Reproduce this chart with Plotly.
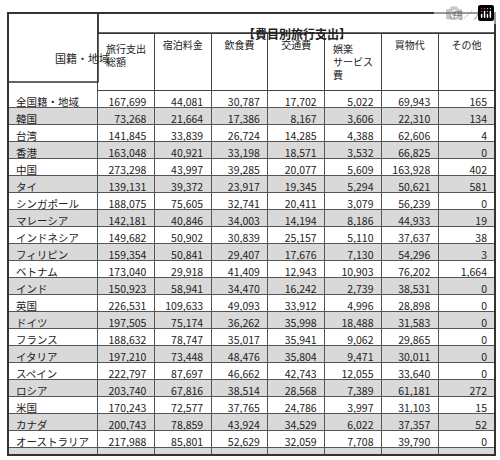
import plotly.graph_objects as go

regions = ["全国籍・地域","韓国","台湾","香港","中国","タイ","シンガポール","マレーシア","インドネシア","フィリピン","ベトナム","インド","英国","ドイツ","フランス","イタリア","スペイン","ロシア","米国","カナダ","オーストラリア","その他"]
total = [167699,73268,141845,163048,273298,139131,188075,142181,149682,159354,173040,150923,226531,197505,188632,197210,222797,203740,170243,200743,217988,185772]
lodging = [44081,21664,33839,40921,43997,39372,75605,40846,50902,50841,29918,58941,109633,75174,78747,73448,87697,67816,72577,78859,85801,82702]
food = [30787,17386,26724,33198,39285,23917,32741,34003,30839,29407,41409,34470,49093,36262,35017,48476,46662,38514,37765,43924,52629,35778]
transport = [17702,8167,14285,18571,20077,19345,20411,14194,25157,17676,12943,16242,33912,35998,35941,35804,42743,28568,24786,34529,32059,25459]
entertain = [5022,3606,4388,3532,5609,5294,3079,8186,5110,7130,10903,2739,4996,18488,9062,9471,12055,7389,3997,6022,7708,6729]
shopping = [69943,22310,62606,66825,163928,50621,56239,44933,37637,54296,76202,38531,28898,31583,29865,30011,33640,61181,31103,37357,39790,35104]
other = [165,134,4,0,402,581,0,19,38,3,1664,0,0,0,0,0,0,272,15,52,0,0]
headers = ["", "旅行支出<br>総額", "宿泊料金", "飲食費", "交通費", "娯楽<br>サービス<br>費", "買物代", "その他"]
group_title = "【費目別旅行支出】"
row_header = "国籍・地域"
unit = "（円／人）"

W, H = 500, 460
x0, x1, xs = 8, 495, 98
ytop, yh, ybot = 13, 33, 455
FONT = "Noto Sans CJK JP"

def fmt(a):
    return [f"{v:,}" for v in a]

n = len(regions)
fills = ["white" if i % 2 == 0 else "#d9d9d9" for i in range(n)]
widths = [90] + [57] * 7

fig = go.Figure(go.Table(
    domain=dict(x=[x0 / W, x1 / W], y=[1 - ybot / H, 1 - yh / H]),
    columnwidth=widths,
    header=dict(values=headers, height=16, align="center",
                fill_color="white",
                line=dict(color=["white"] + ["#444"] * 7, width=1),
                font=dict(family=FONT, size=10, color="#222")),
    cells=dict(values=[regions] + [fmt(c) for c in [total, lodging, food, transport, entertain, shopping, other]],
               height=17, align=["left"] + ["right"] * 7,
               fill_color=[fills] * 8,
               line=dict(color="#555", width=1),
               font=dict(family=FONT, size=10.5, color="#222")),
))

fig.add_shape(type="rect", xref="paper", yref="paper", x0=xs / W, x1=x1 / W,
              y0=1 - yh / H, y1=1 - ytop / H, line=dict(color="#333", width=1.5))
fig.add_shape(type="rect", xref="paper", yref="paper", x0=x0 / W, x1=xs / W,
              y0=1 - 82 / H, y1=1 - ytop / H, line=dict(color="#333", width=1.5))
fig.add_shape(type="rect", xref="paper", yref="paper", x0=x0 / W, x1=x1 / W,
              y0=1 - ybot / H, y1=1 - ytop / H, line=dict(color="#333", width=2))
fig.add_annotation(text=f"<b>{group_title}</b>", xref="paper", yref="paper",
                   x=(xs + x1) / 2 / W, y=1 - (ytop + yh) / 2 / H, showarrow=False,
                   font=dict(family=FONT, size=12, color="#222"))
fig.add_annotation(text=row_header, xref="paper", yref="paper",
                   x=(x0 + xs) / 2 / W, y=1 - 48 / H, showarrow=False,
                   font=dict(family=FONT, size=11, color="#222"))
fig.add_annotation(text=unit, xref="paper", yref="paper", x=x1 / W, y=1 - 5 / H,
                   xanchor="right", showarrow=False,
                   font=dict(family=FONT, size=10, color="#222"))

fig.update_layout(width=W, height=H, margin=dict(l=0, r=0, t=0, b=0),
                  paper_bgcolor="white")
fig.write_html("out.html", post_script="document.body.style.margin='0';")
